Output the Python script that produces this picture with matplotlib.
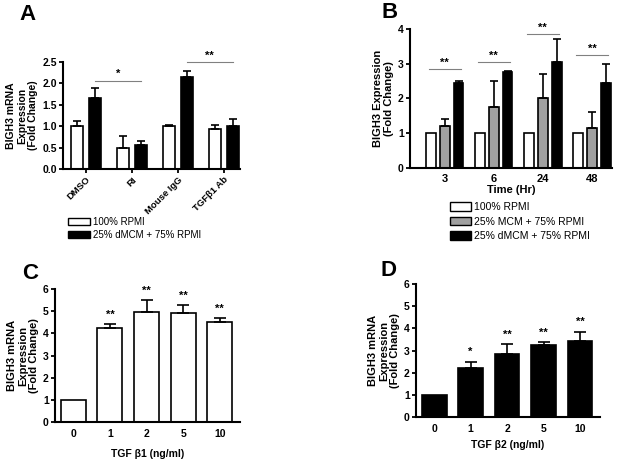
import matplotlib
matplotlib.use("Agg")
import matplotlib.pyplot as plt
import numpy as np
from matplotlib.patches import Patch

plt.rcParams['font.family'] = ['Liberation Sans', 'DejaVu Sans']
plt.rcParams['font.weight'] = 'bold'

# Panel A
a_groups = ["DMSO", "RI", "Mouse IgG", "TGFβ1 Ab"]
a_rpmi = [1.0, 0.5, 1.0, 0.93]
a_rpmi_err = [0.12, 0.27, 0.03, 0.10]
a_dmcm = [1.65, 0.55, 2.15, 1.0]
a_dmcm_err = [0.25, 0.11, 0.13, 0.16]
a_legend = ["100% RPMI", "25% dMCM + 75% RPMI"]

# Panel B
b_times = ["3", "6", "24", "48"]
b_rpmi = [1.0, 1.0, 1.0, 1.0]
b_mcm = [1.2, 1.75, 2.0, 1.15]
b_mcm_err = [0.2, 0.75, 0.7, 0.45]
b_dmcm = [2.45, 2.75, 3.05, 2.45]
b_dmcm_err = [0.05, 0.04, 0.65, 0.55]
b_sig_y = [2.85, 3.05, 3.85, 3.25]
b_legend = ["100% RPMI", "25% MCM + 75% RPMI", "25% dMCM + 75% RPMI"]

# Panel C
c_doses = ["0", "1", "2", "5", "10"]
c_vals = [1.0, 4.25, 4.95, 4.9, 4.5]
c_err = [0.0, 0.17, 0.55, 0.37, 0.17]
c_stars = ["", "**", "**", "**", "**"]

# Panel D
d_doses = ["0", "1", "2", "5", "10"]
d_vals = [1.0, 2.22, 2.85, 3.25, 3.45]
d_err = [0.0, 0.28, 0.43, 0.12, 0.4]
d_stars = ["", "*", "**", "**", "**"]

W, H = 621, 461
fig = plt.figure(figsize=(W / 100, H / 100), dpi=100)

def ax_px(l, r, b, t):
    return fig.add_axes([l / W, 1 - b / H, (r - l) / W, (b - t) / H])

def style(ax):
    for s in ['top', 'right']:
        ax.spines[s].set_visible(False)
    for s in ['left', 'bottom']:
        ax.spines[s].set_linewidth(1.5)
    ax.tick_params(direction='out', width=1.3, length=3, labelsize=7.5, pad=1.5)
    for lab in ax.get_xticklabels() + ax.get_yticklabels():
        lab.set_fontweight('bold')

ekw = dict(elinewidth=1.2, capsize=3, capthick=1.2, ecolor='black')

# ---- A ----
axA = ax_px(63, 240, 169, 62)
x = np.arange(len(a_groups))
bw = 0.26
off = 0.19
axA.bar(x - off, a_rpmi, bw, color='white', edgecolor='black', linewidth=1.2)
axA.errorbar(x - off, a_rpmi, yerr=[np.zeros(4), a_rpmi_err], fmt='none', **ekw)
axA.bar(x + off, a_dmcm, bw, color='black', edgecolor='black', linewidth=1.2)
axA.errorbar(x + off, a_dmcm, yerr=[np.zeros(4), a_dmcm_err], fmt='none', **ekw)
axA.set_xlim(-0.5, 3.35)
axA.set_ylim(0, 2.5)
axA.set_yticks([0, 0.5, 1.0, 1.5, 2.0, 2.5])
axA.set_yticklabels(["0.0", "0.5", "1.0", "1.5", "2.0", "2.5"])
axA.set_xticks(x)
axA.set_xticklabels(a_groups, rotation=45, ha='right', rotation_mode='anchor')
style(axA)
axA.tick_params(axis='x', labelsize=6.8)
axA.set_ylabel("BIGH3 mRNA\nExpression\n(Fold Change)", fontsize=7.5, fontweight='bold', labelpad=3, linespacing=1.1)
axA.plot([x[0] + off, x[1] + off], [2.05, 2.05], color='gray', lw=0.8, clip_on=False)
axA.text((x[0] + x[1]) / 2 + off, 2.1, "*", ha='center', va='bottom', fontsize=8)
axA.plot([x[2] + off, x[3] + off], [2.5, 2.5], color='gray', lw=0.8, clip_on=False)
axA.text((x[2] + x[3]) / 2 + off, 2.52, "**", ha='center', va='bottom', fontsize=8)
fig.text(28 / W, 1 - 15 / H, "A", fontsize=16, fontweight='bold', ha='center', va='center')
handlesA = [Patch(facecolor='white', edgecolor='black'), Patch(facecolor='black', edgecolor='black')]
fig.legend(handlesA, a_legend, loc='upper left', bbox_to_anchor=(68 / W, 1 - 217 / H),
           frameon=False, handlelength=2.3, handleheight=0.8,
           labelspacing=0.3, handletextpad=0.3, borderaxespad=0, borderpad=0,
           prop={'weight': 'normal', 'size': 7})

# ---- B ----
axB = ax_px(410, 612, 168, 29)
x = np.arange(len(b_times))
bw = 0.2
off = 0.28
axB.bar(x - off, b_rpmi, bw, color='white', edgecolor='black', linewidth=1.2)
axB.bar(x, b_mcm, bw, color='#a0a0a0', edgecolor='black', linewidth=1.2)
axB.errorbar(x, b_mcm, yerr=[np.zeros(4), b_mcm_err], fmt='none', **ekw)
axB.bar(x + off, b_dmcm, bw, color='black', edgecolor='black', linewidth=1.2)
axB.errorbar(x + off, b_dmcm, yerr=[np.zeros(4), b_dmcm_err], fmt='none', **ekw)
for i, yv in enumerate(b_sig_y):
    axB.plot([x[i] - off - 0.05, x[i] + off + 0.05], [yv, yv], color='gray', lw=0.8)
    axB.text(x[i], yv + 0.03, "**", ha='center', va='bottom', fontsize=8)
axB.set_xlim(-0.71, 3.41)
axB.set_ylim(0, 4)
axB.set_yticks([0, 1, 2, 3, 4])
axB.set_xticks(x)
axB.set_xticklabels(b_times)
style(axB)
axB.tick_params(axis='x', length=0, pad=4, labelsize=8)
axB.set_ylabel("BIGH3 Expression\n(Fold Change)", fontsize=8, fontweight='bold', labelpad=3, linespacing=1.1)
axB.set_xlabel("Time (Hr)", fontsize=8, fontweight='bold', labelpad=1)
fig.text(390 / W, 1 - 13 / H, "B", fontsize=16, fontweight='bold', ha='center', va='center')
handlesB = [Patch(facecolor='white', edgecolor='black'), Patch(facecolor='#a0a0a0', edgecolor='black'),
            Patch(facecolor='black', edgecolor='black')]
fig.legend(handlesB, b_legend, loc='upper left', bbox_to_anchor=(450 / W, 1 - 202 / H),
           frameon=False, handlelength=2.0, handleheight=0.9,
           labelspacing=0.45, handletextpad=0.3, borderaxespad=0, borderpad=0,
           prop={'weight': 'normal', 'size': 7.5})

# ---- C / D ----
def dose_panel(l, r, b, t, doses, vals, err, stars, color, xlabel, letter, lx, ly, xpad):
    ax = ax_px(l, r, b, t)
    x = np.arange(len(doses))
    ax.bar(x, vals, 0.68, color=color, edgecolor='black', linewidth=1.2)
    ax.errorbar(x[1:], vals[1:], yerr=[np.zeros(len(x) - 1), err[1:]], fmt='none',
                elinewidth=1.2, capsize=4, capthick=1.2, ecolor='black')
    for i, s in enumerate(stars):
        if s:
            ax.text(x[i], vals[i] + err[i] + 0.2, s, ha='center', va='bottom', fontsize=8)
    ax.set_xlim(-0.5, len(doses) - 1 + 0.55)
    ax.set_ylim(0, 6)
    ax.set_yticks(range(7))
    ax.set_xticks(x)
    ax.set_xticklabels(doses)
    style(ax)
    ax.tick_params(axis='x', length=0, pad=5, labelsize=7.5)
    ax.set_ylabel("BIGH3 mRNA\nExpression\n(Fold Change)", fontsize=8, fontweight='bold', labelpad=3, linespacing=1.1)
    ax.set_xlabel(xlabel, fontsize=7.5, fontweight='bold', labelpad=xpad)
    fig.text(lx / W, 1 - ly / H, letter, fontsize=16, fontweight='bold', ha='center', va='center')
    return ax

dose_panel(55, 240, 422, 289, c_doses, c_vals, c_err, c_stars, 'white',
           "TGF β1 (ng/ml)", "C", 30, 273, 7)
dose_panel(416, 600, 417, 284, d_doses, d_vals, d_err, d_stars, 'black',
           "TGF β2 (ng/ml)", "D", 389, 270, 4)

fig.savefig("out.png", dpi=100)
